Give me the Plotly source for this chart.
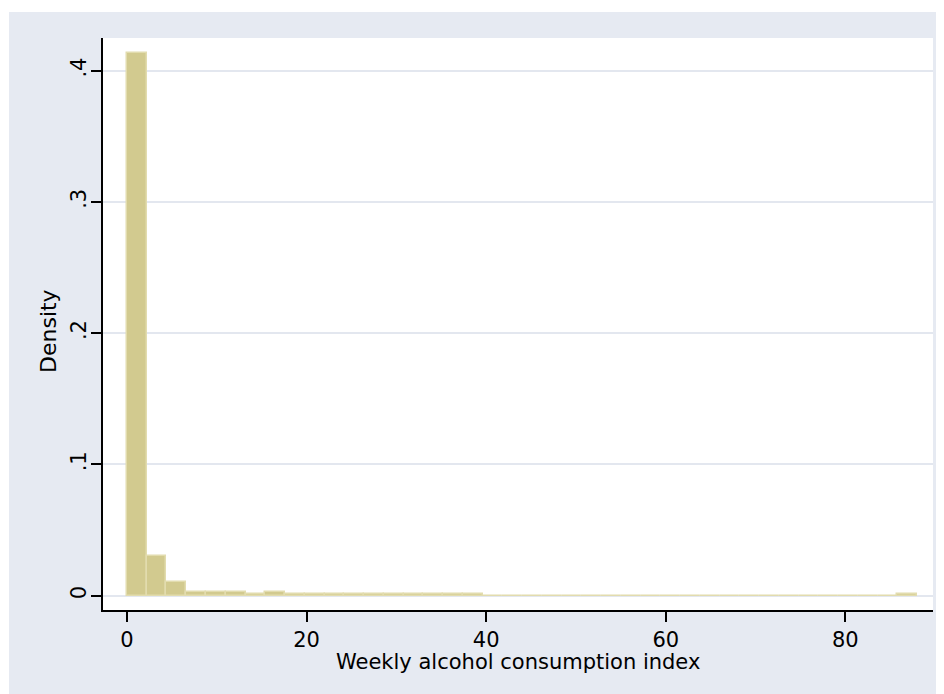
import plotly.graph_objects as go

# ---- data ----
bin_start = 0.0
bin_width = 2.2
densities = [
    0.4135, 0.0302, 0.0102, 0.0026, 0.0026, 0.0026, 0.0013, 0.0028, 0.0013, 0.0013,
    0.0013, 0.0013, 0.0013, 0.0013, 0.0013, 0.0013, 0.0013, 0.0013, 0.0, 0.0,
    0.0, 0.0, 0.0, 0.0, 0.0, 0.0, 0.0, 0.0, 0.0, 0.0,
    0.0, 0.0, 0.0, 0.0, 0.0, 0.0, 0.0, 0.0, 0.0, 0.0013,
]
x_ticks = [0, 20, 40, 60, 80]
x_tick_labels = ["0", "20", "40", "60", "80"]
y_ticks = [0, 0.1, 0.2, 0.3, 0.4]
y_tick_labels = ["0", ".1", ".2", ".3", ".4"]
x_title = "Weekly alcohol consumption index"
y_title = "Density"

centers = [bin_start + bin_width * (i + 0.5) for i in range(len(densities))]

OFF = 8  # page body margin
W, H = 944 - OFF, 694 - OFF
L, R, T, B = 103 - OFF, 933 - OFF, 38 - OFF, 610 - OFF  # plot area in figure pixels


def px_x(p):
    p = p - OFF
    return (p - L) / (R - L)


def px_y(p):
    p = p - OFF
    return (B - p) / (B - T)


FONT = "DejaVu Sans"
BG = "#E6EAF2"
GRID = "#E3E7EF"

fig = go.Figure()
fig.add_trace(go.Bar(
    x=centers, y=densities, width=bin_width,
    marker=dict(color="#D2CA8F", line=dict(color="#E2DCAE", width=1.5)),
    hoverinfo="skip", showlegend=False,
))

fig.update_layout(
    width=W, height=H,
    margin=dict(l=L, r=W - R, t=T, b=H - B, pad=0),
    paper_bgcolor="white",
    plot_bgcolor="white",
    bargap=0,
    font=dict(family=FONT, color="black", size=21),
    shapes=[
        dict(type="rect", xref="paper", yref="paper", layer="below",
             x0=px_x(9), x1=px_x(960), y0=px_y(710), y1=px_y(12),
             fillcolor=BG, line=dict(width=0)),
        dict(type="rect", xref="paper", yref="paper", layer="below",
             x0=0, x1=1, y0=0, y1=1,
             fillcolor="white", line=dict(width=0)),
    ],
    xaxis=dict(
        range=[-2.67, 89.76], tickvals=x_ticks, ticktext=x_tick_labels,
        showgrid=False, zeroline=False,
        showline=True, linecolor="black", linewidth=2,
        ticks="outside", ticklen=10, tickwidth=2, tickcolor="black",
        tickfont=dict(size=21, family=FONT, color="black"),
    ),
    yaxis=dict(
        range=[-0.0109, 0.4249], tickvals=y_ticks, ticktext=y_tick_labels,
        showgrid=True, gridcolor=GRID, gridwidth=1.5, zeroline=False,
        showline=True, linecolor="black", linewidth=2,
        ticks="outside", ticklen=10, tickwidth=2, tickcolor="black",
        tickangle=-90, ticklabelstandoff=-3,
        tickfont=dict(size=21, family=FONT, color="black"),
    ),
    annotations=[
        dict(text=x_title, xref="paper", yref="paper",
             x=px_x(518), y=px_y(662), xanchor="center", yanchor="middle",
             showarrow=False, font=dict(size=21, family=FONT, color="black")),
        dict(text=y_title, xref="paper", yref="paper",
             x=px_x(48), y=px_y(331), xanchor="center", yanchor="middle",
             textangle=-90,
             showarrow=False, font=dict(size=22, family=FONT, color="black")),
    ],
)

fig.write_html("out.html")
